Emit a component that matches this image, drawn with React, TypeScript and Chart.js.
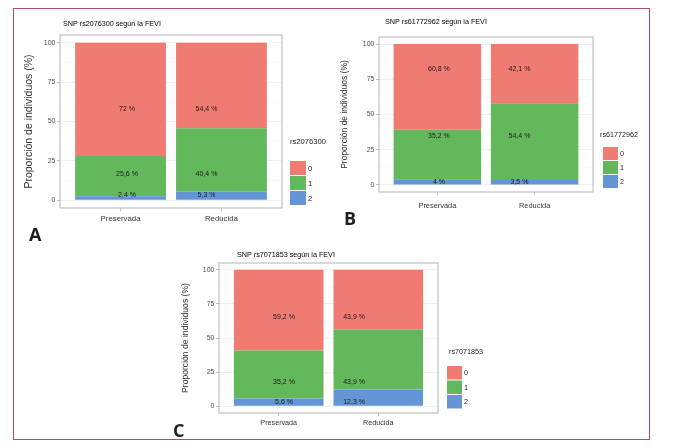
import React, { useEffect, useRef } from "react";
import { Chart, registerables } from "chart.js";

Chart.register(...registerables);

// ---------- shared data ----------
const categories = ["Preservada", "Reducida"];
const categoryX = [1, 2];
const genotypes = ["0", "1", "2"];
const genotypeColors = ["#F07B72", "#63B85C", "#6495D6"];
const yTicks = [0, 25, 50, 75, 100];
const yAxisTitle = "Proporción de individuos (%)";

// ---------- panel A ----------
const snpA = "rs2076300";
const aGeno0 = [72, 54.4];
const aGeno1 = [25.6, 40.4];
const aGeno2 = [2.4, 5.3];
const aLabelX = [1.064, 1.852];
const aLabelY = [58.2, 16.5, 3.2];

// ---------- panel B ----------
const snpB = "rs61772962";
const bGeno0 = [60.8, 42.1];
const bGeno1 = [35.2, 54.4];
const bGeno2 = [4, 3.5];
const bLabelX = [1.016, 1.844];
const bLabelY = [82.3, 34.8, 2.1];

// ---------- panel C ----------
const snpC = "rs7071853";
const cGeno0 = [59.2, 43.9];
const cGeno1 = [35.2, 43.9];
const cGeno2 = [5.6, 12.3];
const cLabelX = [1.053, 1.757];
const cLabelY = [65.2, 17.8, 3.0];

const FONT = "'Liberation Sans', Arial, Helvetica, sans-serif";

type Layout = {
  letter: string; letterX: number; letterY: number;
  left: number; top: number; width: number; height: number;
  padTop: number; padRight: number; yAxisW: number; xAxisH: number;
  yTitleSize: number; yTitlePad: number; tickSize: number;
  xLabelSize: number; xLabelPad: number;
  titleX: number; titleY: number; titleSize: number;
  legendX: number; legendTitleY: number; keyX: number; keyTop: number;
  keyW: number; keyH: number; legendSize: number; valueSize: number;
};

type PanelSpec = {
  snp: string;
  values: number[][];
  labelX: number[];
  labelY: number[];
  layout: Layout;
};

const layoutA: Layout = {
  letter: "A", letterX: 29, letterY: 225.4,
  left: 18, top: 12, width: 322, height: 216,
  padTop: 23, padRight: 58, yAxisW: 42, xAxisH: 20,
  yTitleSize: 10.5, yTitlePad: 4.7, tickSize: 7,
  xLabelSize: 7.8, xLabelPad: 3,
  titleX: 63, titleY: 24, titleSize: 7.2,
  legendX: 290, legendTitleY: 142, keyX: 290, keyTop: 161,
  keyW: 16, keyH: 15, legendSize: 7.6, valueSize: 7,
};

const layoutB: Layout = {
  letter: "B", letterX: 344, letterY: 209.4,
  left: 336, top: 12, width: 312, height: 205,
  padTop: 25, padRight: 55, yAxisW: 43, xAxisH: 25,
  yTitleSize: 8.5, yTitlePad: 3.9, tickSize: 7,
  xLabelSize: 7.4, xLabelPad: 7,
  titleX: 385, titleY: 22, titleSize: 7.2,
  legendX: 600, legendTitleY: 135, keyX: 603, keyTop: 147,
  keyW: 15, keyH: 14, legendSize: 7.2, valueSize: 7,
};

const layoutC: Layout = {
  letter: "C", letterX: 173, letterY: 421.4,
  left: 176, top: 245, width: 319, height: 188,
  padTop: 18, padRight: 57, yAxisW: 43, xAxisH: 20,
  yTitleSize: 8.6, yTitlePad: 4.3, tickSize: 7,
  xLabelSize: 7.2, xLabelPad: 3,
  titleX: 237, titleY: 255, titleSize: 7.2,
  legendX: 449, legendTitleY: 352, keyX: 447, keyTop: 366,
  keyW: 15, keyH: 14.5, legendSize: 7.2, valueSize: 7,
};

const panels: PanelSpec[] = [
  { snp: snpA, values: [aGeno0, aGeno1, aGeno2], labelX: aLabelX, labelY: aLabelY, layout: layoutA },
  { snp: snpB, values: [bGeno0, bGeno1, bGeno2], labelX: bLabelX, labelY: bLabelY, layout: layoutB },
  { snp: snpC, values: [cGeno0, cGeno1, cGeno2], labelX: cLabelX, labelY: cLabelY, layout: layoutC },
];

function fmt(v: number) {
  return String(v).replace(".", ",") + " %";
}

function panelPlugin(p: PanelSpec) {
  const L = p.layout;
  return {
    id: "panelDecor",
    beforeDatasetsDraw(chart: any) {
      const { ctx, chartArea: ca, scales } = chart;
      const y = scales.y;
      ctx.save();
      ctx.strokeStyle = "#f2f2f2";
      ctx.lineWidth = 0.5;
      for (let i = 0; i < yTicks.length - 1; i++) {
        const py = y.getPixelForValue((yTicks[i] + yTicks[i + 1]) / 2);
        ctx.beginPath();
        ctx.moveTo(ca.left, py);
        ctx.lineTo(ca.right, py);
        ctx.stroke();
      }
      ctx.restore();
    },
    afterDatasetsDraw(chart: any) {
      const { ctx, chartArea: ca, scales } = chart;
      const x = scales.x;
      const y = scales.y;
      ctx.save();
      // value labels
      ctx.fillStyle = "#1a1a1a";
      ctx.font = `${L.valueSize}px ${FONT}`;
      ctx.textAlign = "center";
      ctx.textBaseline = "middle";
      p.values.forEach((series, g) => {
        series.forEach((v, i) => {
          ctx.fillText(fmt(v), x.getPixelForValue(p.labelX[i]), y.getPixelForValue(p.labelY[g]));
        });
      });
      // panel border
      ctx.strokeStyle = "#b3b3b3";
      ctx.lineWidth = 1;
      ctx.strokeRect(ca.left, ca.top, ca.right - ca.left, ca.bottom - ca.top);
      ctx.restore();
    },
    afterDraw(chart: any) {
      const { ctx } = chart;
      const ox = L.left;
      const oy = L.top;
      ctx.save();
      ctx.textAlign = "left";
      ctx.textBaseline = "middle";
      // plot title
      ctx.fillStyle = "#000000";
      ctx.font = `${L.titleSize}px ${FONT}`;
      ctx.fillText(`SNP ${p.snp} según la FEVI`, L.titleX - ox, L.titleY - oy);
      // legend
      ctx.font = `${L.legendSize}px ${FONT}`;
      ctx.fillStyle = "#1a1a1a";
      ctx.fillText(p.snp, L.legendX - ox, L.legendTitleY - oy);
      genotypes.forEach((g, i) => {
        const ky = L.keyTop - oy + i * L.keyH;
        ctx.fillStyle = genotypeColors[i];
        ctx.fillRect(L.keyX - ox, ky, L.keyW, L.keyH - 1);
        ctx.fillStyle = "#1a1a1a";
        ctx.fillText(g, L.keyX - ox + L.keyW + 2, ky + L.keyH / 2);
      });
      ctx.restore();
    },
  };
}

function buildConfig(p: PanelSpec): any {
  const L = p.layout;
  const stackOrder = [2, 1, 0];
  return {
    type: "bar",
    data: {
      datasets: stackOrder.map((g) => ({
        label: genotypes[g],
        data: categoryX.map((xv, i) => ({ x: xv, y: p.values[g][i] })),
        backgroundColor: genotypeColors[g],
        borderWidth: 0,
        barPercentage: 0.9,
        categoryPercentage: 1,
      })),
    },
    options: {
      animation: false,
      responsive: false,
      maintainAspectRatio: false,
      layout: { padding: { left: 0, top: L.padTop, right: L.padRight, bottom: 0 } },
      plugins: {
        legend: { display: false },
        tooltip: { enabled: false },
        title: { display: false },
      },
      scales: {
        x: {
          type: "linear",
          min: 0.4,
          max: 2.6,
          stacked: true,
          offset: false,
          afterBuildTicks: (s: any) => {
            s.ticks = categoryX.map((v) => ({ value: v }));
          },
          afterFit: (s: any) => {
            s.height = L.xAxisH;
          },
          ticks: {
            autoSkip: false,
            maxRotation: 0,
            padding: L.xLabelPad,
            color: "#333333",
            font: { family: FONT, size: L.xLabelSize },
            callback: (v: any) => categories[categoryX.indexOf(Number(v))],
          },
          grid: {
            offset: false,
            drawOnChartArea: false,
            drawTicks: true,
            tickLength: 3,
            tickColor: "#b3b3b3",
            tickWidth: 0.8,
          },
          border: { display: false },
        },
        y: {
          type: "linear",
          min: -5,
          max: 105,
          stacked: true,
          afterBuildTicks: (s: any) => {
            s.ticks = yTicks.map((v) => ({ value: v }));
          },
          afterFit: (s: any) => {
            s.width = L.yAxisW;
          },
          ticks: {
            padding: 1.5,
            color: "#4d4d4d",
            font: { family: FONT, size: L.tickSize },
          },
          grid: {
            offset: false,
            color: "#ebebeb",
            lineWidth: 0.8,
            drawTicks: true,
            tickLength: 3,
            tickColor: "#b3b3b3",
            tickWidth: 0.8,
          },
          border: { display: false },
          title: {
            display: true,
            text: yAxisTitle,
            color: "#333333",
            font: { family: FONT, size: L.yTitleSize },
            padding: { top: L.yTitlePad, bottom: 0 },
          },
        },
      },
    },
    plugins: [panelPlugin(p)],
  };
}

function Panel({ spec }: { spec: PanelSpec }) {
  const ref = useRef<HTMLCanvasElement>(null);
  const L = spec.layout;
  useEffect(() => {
    if (!ref.current) return;
    const chart = new Chart(ref.current, buildConfig(spec));
    return () => chart.destroy();
  }, [spec]);
  return (
    <>
      <canvas
        ref={ref}
        width={L.width}
        height={L.height}
        style={{ position: "absolute", left: L.left, top: L.top, width: L.width, height: L.height }}
      />
      <div
        style={{
          position: "absolute",
          left: L.letterX,
          top: L.letterY,
          fontFamily: "'Open Sans', 'DejaVu Sans', sans-serif",
          fontWeight: 700,
          fontSize: 18,
          lineHeight: "18px",
          color: "#231f20",
        }}
      >
        {L.letter}
      </div>
    </>
  );
}

export default function App() {
  return (
    <div
      style={{
        position: "fixed",
        left: 0,
        top: 0,
        width: 680,
        height: 448,
        background: "#ffffff",
        overflow: "hidden",
      }}
    >
      <div
        style={{
          position: "absolute",
          left: 13,
          top: 8,
          width: 637,
          height: 432,
          border: "1.5px solid #b5495b",
          boxSizing: "border-box",
        }}
      />
      {panels.map((p) => (
        <Panel key={p.snp} spec={p} />
      ))}
    </div>
  );
}
